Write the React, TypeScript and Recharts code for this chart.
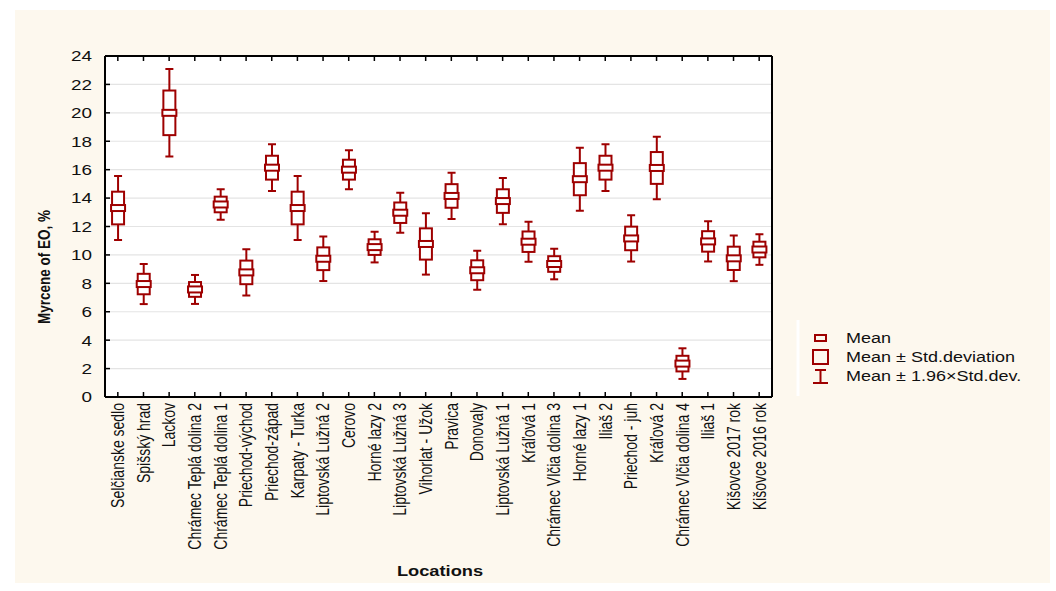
import React from 'react';
import { ComposedChart, Bar, XAxis, YAxis, CartesianGrid, Customized } from 'recharts';

const locations = [
  'Selčianske sedlo', 'Spišský hrad', 'Lackov', 'Chrámec Teplá dolina 2', 'Chrámec Teplá dolina 1',
  'Priechod-východ', 'Priechod-západ', 'Karpaty - Turka', 'Liptovská Lužná 2', 'Cerovo',
  'Horné lazy 2', 'Liptovská Lužná 3', 'Vihorlat - Užok', 'Pravica', 'Donovaly',
  'Liptovská Lužná 1', 'Kráľová 1', 'Chrámec Vlčia dolina 3', 'Horné lazy 1', 'Iliaš 2',
  'Priechod - juh', 'Kráľová 2', 'Chrámec Vlčia dolina 4', 'Iliaš 1', 'Kišovce 2017 rok', 'Kišovce 2016 rok',
];

const means = [
  13.3, 7.95, 20.0, 7.57, 13.55, 8.77, 16.14, 13.3, 9.73, 16.0,
  10.55, 12.97, 10.77, 14.15, 8.92, 13.79, 10.93, 9.36, 15.33, 16.14,
  11.16, 16.12, 2.35, 10.95, 9.76, 10.38,
];

const stdDevs = [
  1.15, 0.72, 1.57, 0.52, 0.55, 0.83, 0.84, 1.15, 0.8, 0.7,
  0.55, 0.72, 1.1, 0.83, 0.7, 0.83, 0.72, 0.55, 1.13, 0.84,
  0.83, 1.12, 0.55, 0.72, 0.82, 0.55,
];

const yTicks = [0, 2, 4, 6, 8, 10, 12, 14, 16, 18, 20, 22, 24];

const legendLabels = ['Mean', 'Mean ± Std.deviation', 'Mean ± 1.96×Std.dev.'];

const RED = '#9e0000';
const FONT = '"Liberation Sans", Arial, sans-serif';
const SX = 1.26;

const data = locations.map((name, i) => ({
  name,
  mean: means[i],
  sd: stdDevs[i],
  range: [means[i] - 1.96 * stdDevs[i], means[i] + 1.96 * stdDevs[i]],
}));

const BoxShape = (props: any) => {
  const { x, y, width, height, payload } = props;
  if (x == null || y == null || !payload) return null;
  const [lo, hi] = payload.range;
  const top = Math.min(y, y + height);
  const bottom = Math.max(y, y + height);
  const toPx = (v: number) => top + ((hi - v) / (hi - lo)) * (bottom - top);
  const cx = x + width / 2;
  const bTop = toPx(payload.mean + payload.sd);
  const bBot = toPx(payload.mean - payload.sd);
  const m = toPx(payload.mean);
  return (
    <g stroke={RED} strokeWidth={2} fill="none">
      <line x1={cx} x2={cx} y1={top} y2={bTop} />
      <line x1={cx} x2={cx} y1={bBot} y2={bottom} />
      <line x1={cx - 4} x2={cx + 4} y1={top} y2={top} />
      <line x1={cx - 4} x2={cx + 4} y1={bottom} y2={bottom} />
      <rect x={cx - 6} y={bTop} width={12} height={bBot - bTop} fill="#fff" />
      <rect x={cx - 7} y={m - 3} width={14} height={6} fill="#fff" />
    </g>
  );
};

const XTick = (props: any) => {
  const { x, y, payload } = props;
  return (
    <g transform={`translate(${x} ${y}) scale(${SX} 1) rotate(-90)`}>
      <text x={0} y={0} textAnchor="end" dy="0.36em" fontSize={14} fontFamily={FONT} fill="#111">
        {payload.value}
      </text>
    </g>
  );
};

const YTick = (props: any) => {
  const { x, y, payload } = props;
  return (
    <g transform={`translate(${x} ${y}) scale(${SX} 1)`}>
      <text x={0} y={0} textAnchor="end" dy="0.36em" fontSize={15} fontFamily={FONT} fill="#111">
        {payload.value}
      </text>
    </g>
  );
};

const Extras = () => (
  <g fontFamily={FONT}>
    <g transform={`translate(35 257) scale(${SX} 1) rotate(-90)`}>
      <text x={0} y={0} textAnchor="middle" fontSize={13.5} fontWeight="bold" fill="#111">
        Myrcene of EO, %
      </text>
    </g>
    <g transform={`translate(425 566) scale(${SX} 1)`}>
      <text x={0} y={0} textAnchor="middle" fontSize={14.5} fontWeight="bold" fill="#111">
        Locations
      </text>
    </g>
    <line x1={783} x2={783} y1={310} y2={386} stroke="#ffffff" strokeWidth={3} />
    <g stroke={RED} strokeWidth={2} fill="none">
      <rect x={800} y={325} width={11} height={6} />
      <rect x={798} y={340} width={15} height={14} />
      <line x1={805.5} x2={805.5} y1={360} y2={373} />
      <line x1={800} x2={811} y1={360} y2={360} />
      <line x1={798} x2={813} y1={373} y2={373} />
    </g>
    {legendLabels.map((t, i) => (
      <g key={t} transform={`translate(831 ${333 + i * 19}) scale(${SX} 1)`}>
        <text x={0} y={0} fontSize={14.3} fill="#111">
          {t}
        </text>
      </g>
    ))}
  </g>
);

export default function App() {
  return (
    <div
      style={{
        position: 'absolute',
        left: 15,
        top: 10,
        width: 1035,
        height: 573,
        background: '#fdf8ee',
      }}
    >
      <ComposedChart
        width={1035}
        height={573}
        data={data}
        margin={{ top: 45, right: 277, bottom: 36, left: 30 }}
      >
        <CartesianGrid vertical={false} stroke="#e4e4e4" strokeWidth={1.2} fill="#ffffff" />
        <XAxis
          dataKey="name"
          type="category"
          interval={0}
          height={150}
          tickSize={-5}
          tickMargin={11}
          tick={<XTick />}
          axisLine={{ stroke: '#000', strokeWidth: 2 }}
          tickLine={{ stroke: '#000', strokeWidth: 1.5 }}
        />
        <XAxis
          xAxisId="top"
          orientation="top"
          dataKey="name"
          type="category"
          interval={0}
          height={1}
          tickSize={-5}
          tickFormatter={() => ''}
          axisLine={{ stroke: '#000', strokeWidth: 2 }}
          tickLine={{ stroke: '#000', strokeWidth: 1.5 }}
        />
        <YAxis
          type="number"
          domain={[0, 24]}
          ticks={yTicks}
          interval={0}
          width={60}
          tickSize={-5}
          tickMargin={18}
          tick={<YTick />}
          axisLine={{ stroke: '#000', strokeWidth: 2 }}
          tickLine={{ stroke: '#000', strokeWidth: 1.5 }}
          allowDataOverflow
        />
        <YAxis
          yAxisId="right"
          orientation="right"
          type="number"
          domain={[0, 24]}
          ticks={yTicks}
          interval={0}
          width={1}
          tickSize={-5}
          tickFormatter={() => ''}
          axisLine={{ stroke: '#000', strokeWidth: 2 }}
          tickLine={{ stroke: '#000', strokeWidth: 1.5 }}
        />
        <Bar dataKey="range" isAnimationActive={false} shape={<BoxShape />} />
        <Customized component={Extras} />
      </ComposedChart>
    </div>
  );
}
